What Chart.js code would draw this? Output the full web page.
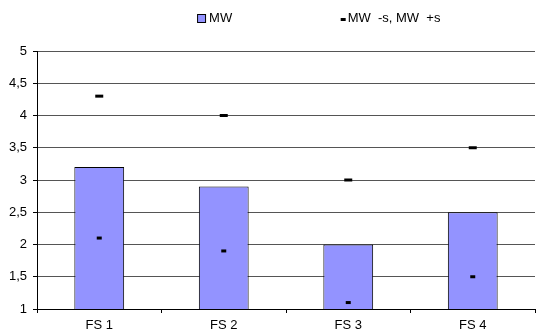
<!DOCTYPE html>
<html><head><meta charset="utf-8">
<script src="https://cdn.jsdelivr.net/npm/chart.js@4/dist/chart.umd.min.js"></script>
<style>html,body{margin:0;padding:0;background:#fff;} #wrap{width:542px;height:333px;position:relative;}</style>
</head><body><div id="wrap"><canvas id="c"></canvas></div>
<script>
const categories = ['FS 1', 'FS 2', 'FS 3', 'FS 4'];
const meanValues = [3.2, 2.9, 2.0, 2.5];
const lowerValues = [2.1, 1.9, 1.1, 1.5];
const upperValues = [4.3, 4.0, 3.0, 3.5];
const seriesLabels = ['MW', 'MW  -s, MW  +s'];

const BAR_COLOR = '#9393ff';
const FONT = "'Liberation Sans', Arial, sans-serif";

// marker points built from the lower/upper arrays
const markerPoints = [];
categories.forEach((c, i) => {
  markerPoints.push({x: c, y: lowerValues[i]});
  markerPoints.push({x: c, y: upperValues[i]});
});

// legend symbols
const LEG_W = 105;
const imgW = LEG_W + 13;
function makeImg(w, h, draw) { const c = document.createElement('canvas'); c.width = w; c.height = h; draw(c.getContext('2d')); return c; }
const boxImg = makeImg(imgW, 13, g => { g.fillStyle = '#000'; g.fillRect(imgW - 12, 2, 9, 9); g.fillStyle = BAR_COLOR; g.fillRect(imgW - 11, 3, 7, 7); });
const dashImg = makeImg(imgW, 13, g => { g.fillStyle = '#000'; g.fillRect(imgW - 7, 6, 5, 3); });

new Chart(document.getElementById('c'), {
  type: 'bar',
  data: {
    labels: categories,
    datasets: [
      {
        type: 'bar',
        label: seriesLabels[0],
        data: meanValues,
        backgroundColor: BAR_COLOR,
        borderColor: '#000',
        borderWidth: 1,
        categoryPercentage: 1,
        barPercentage: 0.4,
        order: 2
      },
      {
        type: 'line',
        label: seriesLabels[1],
        data: markerPoints,
        showLine: false,
        pointStyle: 'line',
        pointRadius: ctx => (ctx.dataIndex % 2 === 0 ? 2.5 : 4),
        pointBorderWidth: 3,
        pointBorderColor: '#000',
        pointBackgroundColor: '#000',
        borderColor: '#000',
        order: 1
      }
    ]
  },
  options: {
    responsive: true,
    maintainAspectRatio: false,
    animation: false,
    devicePixelRatio: 1,
    layout: { padding: { top: 8, right: 4, left: 0, bottom: 0 } },
    plugins: {
      tooltip: { enabled: false },
      title: { display: true, text: '', weight: 500, padding: 0, font: { size: 10, lineHeight: 1.6 } },
      legend: {
        display: true,
        position: 'top',
        weight: 1000,
        labels: {
          usePointStyle: true,
          pointStyleWidth: LEG_W,
          boxHeight: 13,
          padding: 4,
          color: '#000',
          font: { family: FONT, size: 13 },
          generateLabels(chart) {
            const items = Chart.defaults.plugins.legend.labels.generateLabels(chart);
            items.sort((a, b) => a.datasetIndex - b.datasetIndex);
            items.forEach(it => { it.pointStyle = it.datasetIndex === 0 ? boxImg : dashImg; it.lineWidth = 0; });
            return items;
          }
        }
      }
    },
    scales: {
      x: {
        offset: true,
        grid: { display: true, drawOnChartArea: false, drawTicks: true, tickLength: 4, color: '#000', offset: true },
        border: { display: true, color: '#000', width: 1 },
        ticks: { color: '#000', font: { family: FONT, size: 13 }, padding: 5, maxRotation: 0 },
        afterFit(s) { s.height = 24; }
      },
      y: {
        min: 1,
        max: 5,
        ticks: {
          stepSize: 0.5,
          color: '#000',
          padding: 6,
          font: { family: FONT, size: 13 },
          callback: v => String(v).replace('.', ',')
        },
        grid: {
          color: ctx => (ctx.tick && ctx.tick.value === 1 ? '#000' : '#555'),
          tickColor: '#000',
          tickLength: 4,
          drawTicks: true
        },
        border: { display: true, color: '#000', width: 1 },
        afterFit(s) { s.width = 37; }
      }
    }
  }
});
</script>
</body></html>
